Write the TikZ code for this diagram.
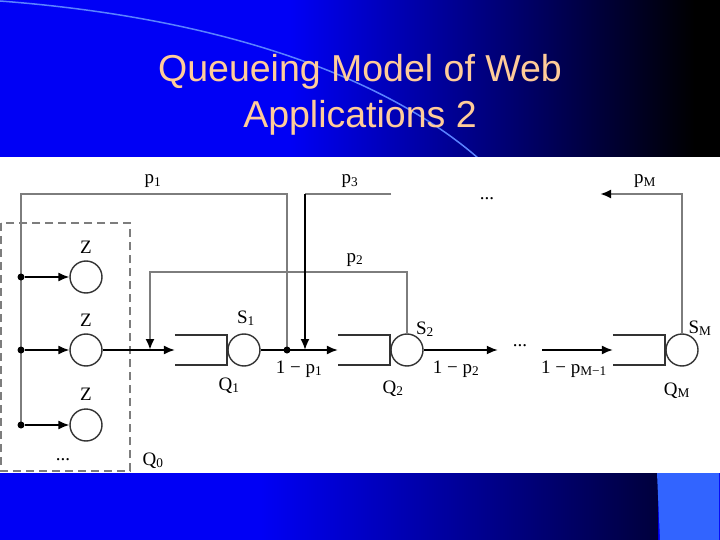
\documentclass[tikz,border=0pt]{standalone}
\usepackage{fontspec}
\setmainfont{Liberation Serif}
\newfontfamily\titlefont{Liberation Sans}
\usetikzlibrary{arrows.meta,positioning}
\definecolor{slideblue}{RGB}{0,0,245}
\definecolor{slidenavy}{RGB}{0,0,60}
\definecolor{arcblue}{RGB}{90,130,255}
\definecolor{cornerblue}{RGB}{50,100,255}
\definecolor{titlepeach}{RGB}{255,204,153}
\definecolor{linegray}{RGB}{125,125,125}

\begin{document}
\begin{tikzpicture}[x=1pt, y=-1pt,
  station/.style={draw=black!80, circle, minimum size=32pt, inner sep=0pt, line width=1.4pt},
  queuebox/.style={minimum width=52pt, minimum height=30pt, inner sep=0pt},
  junction/.style={circle, fill, inner sep=0pt, minimum size=7pt},
  lbl/.style={font=\fontsize{19}{21}\selectfont, inner sep=0pt, anchor=base},
  feed/.style={draw=linegray, line width=2.2pt},
  tip/.style={-{Latex[length=11pt, width=9pt, color=black]}},
  flow/.style={line width=1.8pt, tip}
]
% slide background
\useasboundingbox (0,0) rectangle (720,540);
\fill[slideblue] (0,0) rectangle (720,540);
\shade[left color=slideblue, right color=black] (290,0) rectangle (695,157);
\fill[black] (694,0) rectangle (720,157);
\shade[left color=slideblue, right color=slidenavy] (260,473) rectangle (658,540);
\fill[cornerblue] (657,473) -- (719,473) -- (719,540) -- (660,540) -- cycle;
\draw[arcblue, line width=1.5pt] (0,1) .. controls (250,20) and (400,90) .. (478,158);
\fill[white] (0,157) rectangle (720,473);
\node[font=\titlefont\fontsize{37.5}{46}\selectfont, text=titlepeach, align=center] (title) at (360,95) {Queueing Model of Web\\Applications 2};

% routing points
\coordinate (tl) at (21,194);
\coordinate (tr1) at (287,194);
\coordinate (j1) at (287,350);
\coordinate (p3r) at (391,194);
\coordinate (p3c) at (305,194);
\coordinate (p3in) at (305,350);
\coordinate (p2l) at (150,272);
\coordinate (p2in) at (150,350);
\coordinate (pMend) at (600,194);
\foreach \i/\y in {1/277, 2/350, 3/425}
  \coordinate (d\i) at (21,\y);

% think-time stations (Q0)
\draw[draw=linegray, line width=2.2pt, dash pattern=on 8pt off 5pt] (1,223) rectangle (130,471);
\draw[feed] (d3) -- (tl) -- (tr1) -- (j1);
\foreach \i/\y in {1/277, 2/350, 3/425} {
  \node[station] (z\i) at (86,\y) {};
  \node[junction] (dot\i) at (d\i) {};
  \draw[flow, line width=1.4pt] (dot\i) -- (z\i);
}
\node[lbl] (zl1) at (86,253) {Z};
\node[lbl] (zl2) at (86,326) {Z};
\node[lbl] (zl3) at (86,400) {Z};
\node[lbl] (zdots) at (63,460) {...};
\node[lbl] (q0l) at (153,465) {Q\textsubscript{0}};

% service stations
\node[station] (s1) at (244,350) {};
\node[station] (s2) at (407,350) {};
\node[station] (sM) at (682,350) {};
\node[queuebox, left=0pt of s1] (q1) {};
\node[queuebox, left=0pt of s2] (q2) {};
\node[queuebox, left=0pt of sM] (qM) {};
\foreach \q in {q1,q2,qM}
  \draw[line width=1.8pt, black!80] (\q.north west) -- (\q.north east) -- (\q.south east) -- (\q.south west);
\node[minimum width=44pt, inner sep=0pt, font=\fontsize{19}{21}\selectfont] (mdots) at (520,346) {...};

% connectors
\draw[flow] (z2) -- (q1.west);
\draw[feed, tip] (s2.north) |- (p2l) -- (p2in);
\draw[flow] (s1) -- (q2.west);
\node[junction] (jdot) at (j1) {};
\draw[feed] (p3r) -- (p3c);
\draw[flow] (p3c) -- (p3in);
\draw[flow] (s2) -- (s2 -| mdots.west);
\draw[flow] (mdots.east |- qM.west) -- (qM.west);
\draw[feed, tip] (sM.north) |- (pMend);

% labels
\node[lbl] (p1l) at (153,184) {p\textsubscript{1}};
\node[lbl] (p3l) at (350,184) {p\textsubscript{3}};
\node[lbl] (topdots) at (487,200) {...};
\node[lbl] (pMl) at (645,184) {p\textsubscript{M}};
\node[lbl] (p2l) at (355,262) {p\textsubscript{2}};
\node[lbl] (s1l) at (246,323) {S\textsubscript{1}};
\node[lbl] (q1l) at (229,390) {Q\textsubscript{1}};
\node[lbl] (r1l) at (299,373) {1 − p\textsubscript{1}};
\node[lbl] (s2l) at (425,334) {S\textsubscript{2}};
\node[lbl] (q2l) at (393,393) {Q\textsubscript{2}};
\node[lbl] (r2l) at (456,373) {1 − p\textsubscript{2}};
\node[lbl] (rMl) at (574,373) {1 − p\textsubscript{M−1}};
\node[lbl] (sMl) at (700,333) {S\textsubscript{M}};
\node[lbl] (qMl) at (677,395) {Q\textsubscript{M}};
\end{tikzpicture}
\end{document}
